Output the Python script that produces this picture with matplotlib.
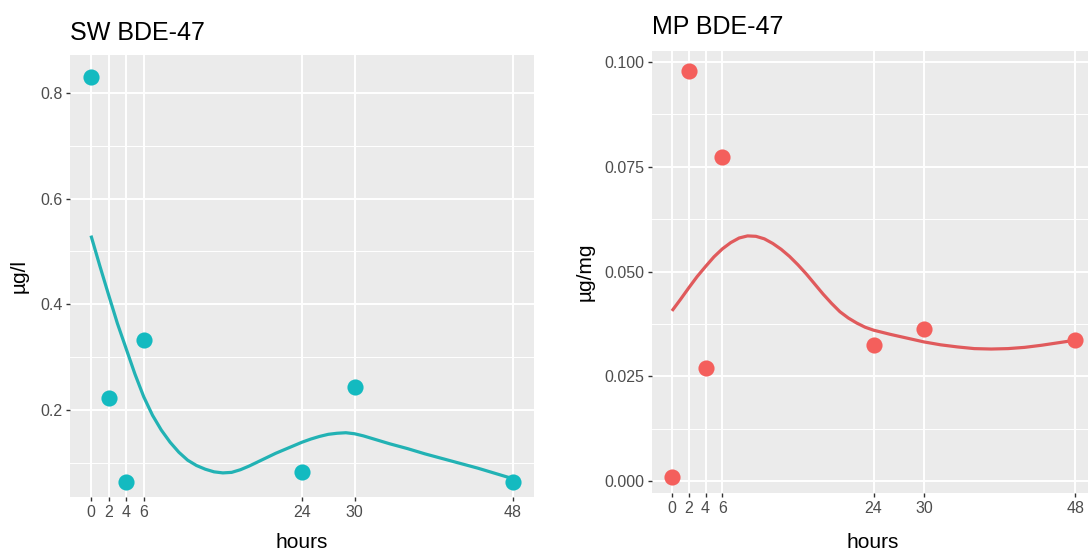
import matplotlib
matplotlib.use("Agg")
import matplotlib.pyplot as plt

plt.rcParams['font.family'] = ['Liberation Sans', 'DejaVu Sans']

# Sampling times (hours) and measured concentrations
hours = [0, 2, 4, 6, 24, 30, 48]
sw_conc = [0.83, 0.223, 0.064, 0.332, 0.083, 0.243, 0.064]      # µg/l
mp_conc = [0.001, 0.0978, 0.0269, 0.0773, 0.0324, 0.0364, 0.0336]  # µg/mg

# Smoothed trend lines
sw_fit_x = [0, 1, 2, 3, 4, 5, 6, 7, 8, 9, 10, 11, 12, 13, 14, 15, 16, 17, 18,
            19, 20, 21, 22, 23, 24, 25, 26, 27, 28, 29, 30, 31, 32, 34, 36,
            38, 40, 42, 44, 46, 48]
sw_fit_y = [0.530, 0.473, 0.418, 0.364, 0.316, 0.268, 0.225, 0.190, 0.162,
            0.139, 0.120, 0.105, 0.095, 0.088, 0.083, 0.081, 0.082, 0.087,
            0.094, 0.102, 0.110, 0.118, 0.125, 0.132, 0.139, 0.145, 0.150,
            0.154, 0.156, 0.157, 0.155, 0.151, 0.146, 0.136, 0.127, 0.117,
            0.108, 0.099, 0.090, 0.080, 0.070]

mp_fit_x = [0, 1, 2, 3, 4, 5, 6, 7, 8, 9, 10, 11, 12, 13, 14, 15, 16, 17, 18,
            19, 20, 21, 22, 23, 24, 26, 28, 30, 32, 34, 36, 38, 40, 42, 44,
            46, 48]
mp_fit_y = [0.0406, 0.0433, 0.0461, 0.0488, 0.0512, 0.0535, 0.0554, 0.0569,
            0.0580, 0.0585, 0.0584, 0.0578, 0.0567, 0.0553, 0.0536, 0.0516,
            0.0494, 0.0470, 0.0446, 0.0424, 0.0404, 0.0389, 0.0377, 0.0367,
            0.0360, 0.0350, 0.0341, 0.0332, 0.0325, 0.0320, 0.0316, 0.0315,
            0.0316, 0.0319, 0.0324, 0.0330, 0.0336]

sw_ticks = [0.2, 0.4, 0.6, 0.8]
sw_minor = [0.1, 0.3, 0.5, 0.7]
mp_ticks = [0.000, 0.025, 0.050, 0.075, 0.100]
mp_minor = [0.0125, 0.0375, 0.0625, 0.0875]

W, H = 1088, 552
fig = plt.figure(figsize=(W / 100, H / 100), dpi=100)


def px_axes(left, top, width, height):
    return fig.add_axes([left / W, (H - top - height) / H, width / W, height / H])


def style(ax, yticks, yminor, ylim, yfmt):
    ax.set_facecolor('#EBEBEB')
    for s in ax.spines.values():
        s.set_visible(False)
    ax.set_xlim(-2.4, 50.4)
    ax.set_ylim(*ylim)
    ax.set_xticks(hours)
    ax.set_xticklabels([str(h) for h in hours])
    ax.set_yticks(yticks)
    ax.set_yticklabels([yfmt.format(v) for v in yticks])
    ax.set_yticks(yminor, minor=True)
    ax.tick_params(which='major', length=3, width=1.0, color='#333333',
                   labelcolor='#4D4D4D', labelsize=11.5, pad=2.5)
    ax.tick_params(which='minor', length=0)
    ax.grid(which='major', color='white', linewidth=1.4)
    ax.grid(which='minor', axis='y', color='white', linewidth=0.7)
    ax.set_axisbelow(True)


# Seawater panel
ax1 = px_axes(69.9, 55, 464.1, 442)
style(ax1, sw_ticks, sw_minor, (0.0354, 0.8717), '{:.1f}')
ax1.plot(sw_fit_x, sw_fit_y, color='#22B2B4', linewidth=2.3, zorder=2,
         solid_joinstyle='round', solid_capstyle='butt')
ax1.scatter(hours, sw_conc, s=135, color='#13BAC0', linewidths=0, zorder=3)
ax1.set_title('SW BDE-47', loc='left', fontsize=18, color='black', pad=11)

# Mussel panel
ax2 = px_axes(651.8, 51, 443.5, 442)
style(ax2, mp_ticks, mp_minor, (-0.00286, 0.10263), '{:.3f}')
ax2.plot(mp_fit_x, mp_fit_y, color='#E05A5C', linewidth=2.3, zorder=2,
         solid_joinstyle='round', solid_capstyle='butt')
ax2.scatter(hours, mp_conc, s=135, color='#F45F5C', linewidths=0, zorder=3)
ax2.set_title('MP BDE-47', loc='left', fontsize=18, color='black', pad=12)

# Axis titles
fig.text(19 / W, 1 - 276 / H, 'µg/l', rotation=90, ha='center', va='center',
         fontsize=15, color='black')
fig.text(585 / W, 1 - 272 / H, 'µg/mg', rotation=90, ha='center', va='center',
         fontsize=15, color='black')
fig.text(302 / W, (H - 548) / H, 'hours', ha='center', va='baseline',
         fontsize=15, color='black')
fig.text(873 / W, (H - 548) / H, 'hours', ha='center', va='baseline',
         fontsize=15, color='black')

fig.savefig('out.png', dpi=100, facecolor='white')
